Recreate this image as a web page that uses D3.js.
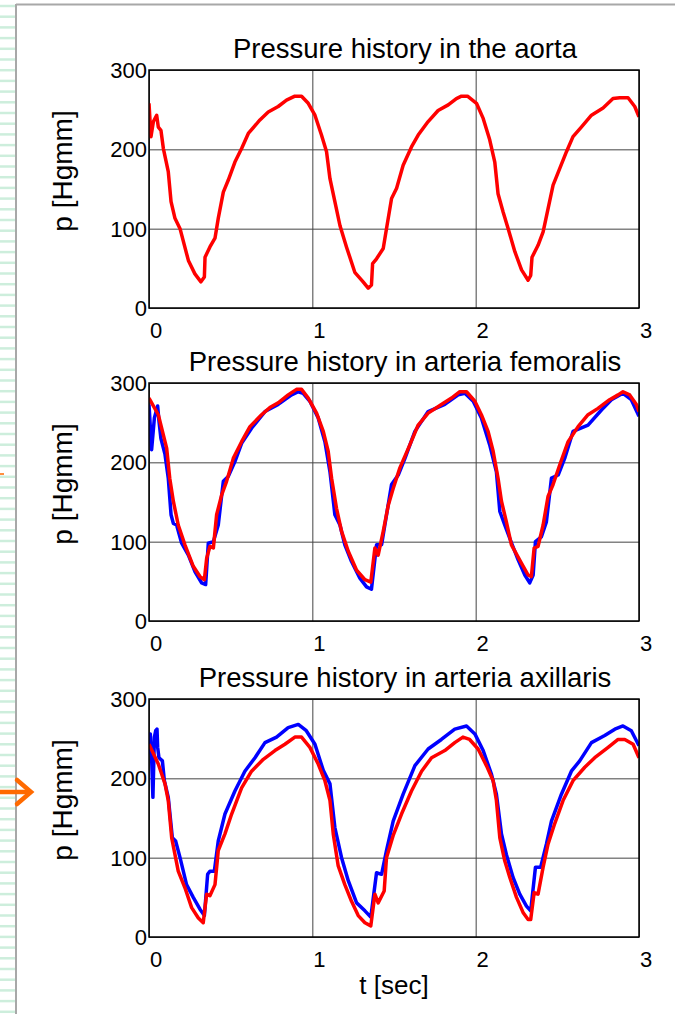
<!DOCTYPE html>
<html>
<head>
<meta charset="utf-8">
<script src="https://cdn.jsdelivr.net/npm/d3@7"></script>
<style>
  body { margin: 0; background: #fff; }
  svg { display: block; font-family: "Liberation Sans", Arial, sans-serif; }
</style>
</head>
<body>
<div id="chart"></div>
<script>
// time ticks and pressure ticks
const xTicks = [0, 1, 2, 3];
const yTicks = [0, 100, 200, 300];
const titles = ['Pressure history in the aorta', 'Pressure history in arteria femoralis', 'Pressure history in arteria axillaris'];

// [t, p]
const aortaRed = [[0,258],[0.012,216],[0.027,235],[0.047,243],[0.057,228],[0.073,224],[0.088,201],[0.118,172],[0.135,134],[0.159,113],[0.19,100],[0.241,60],[0.281,43],[0.318,33],[0.339,39],[0.343,64],[0.373,77],[0.404,88],[0.424,113],[0.455,146],[0.485,161],[0.526,184],[0.567,201],[0.608,220],[0.679,237],[0.73,247],[0.791,254],[0.842,262],[0.893,267],[0.934,267],[0.975,258],[1.016,243],[1.056,218],[1.087,197],[1.108,163],[1.138,134],[1.169,104],[1.209,77],[1.26,45],[1.311,33],[1.342,25],[1.362,29],[1.369,56],[1.393,62],[1.434,75],[1.454,100],[1.485,138],[1.516,151],[1.556,180],[1.607,203],[1.648,218],[1.709,235],[1.77,249],[1.832,256],[1.882,264],[1.913,267],[1.95,267],[2.005,258],[2.046,239],[2.086,212],[2.117,184],[2.137,144],[2.168,121],[2.199,100],[2.24,71],[2.281,48],[2.321,35],[2.337,41],[2.345,64],[2.382,79],[2.413,96],[2.443,125],[2.474,155],[2.515,176],[2.556,197],[2.596,216],[2.647,228],[2.709,243],[2.78,252],[2.841,264],[2.882,265],[2.933,265],[2.974,254],[3.0,241]];

const femoralisBlue = [[0,273],[0.016,216],[0.033,256],[0.053,271],[0.061,252],[0.073,230],[0.098,210],[0.118,180],[0.135,134],[0.149,123],[0.169,121],[0.2,98],[0.241,83],[0.282,62],[0.322,48],[0.347,46],[0.363,98],[0.394,100],[0.424,121],[0.455,176],[0.485,182],[0.526,201],[0.567,224],[0.628,243],[0.71,264],[0.791,273],[0.873,285],[0.914,289],[0.944,287],[0.985,277],[1.036,256],[1.077,226],[1.108,188],[1.138,134],[1.169,121],[1.199,96],[1.24,75],[1.291,54],[1.332,43],[1.362,40],[1.393,96],[1.424,96],[1.444,121],[1.485,172],[1.526,184],[1.567,205],[1.628,239],[1.709,264],[1.811,273],[1.893,285],[1.934,287],[1.985,277],[2.035,256],[2.086,222],[2.127,188],[2.148,138],[2.178,121],[2.209,104],[2.26,77],[2.301,58],[2.331,48],[2.352,58],[2.366,100],[2.402,106],[2.433,125],[2.464,180],[2.505,184],[2.545,205],[2.596,239],[2.688,247],[2.77,266],[2.831,279],[2.902,287],[2.953,279],[3.0,258]];

const femoralisRed = [[0,281],[0.057,260],[0.108,218],[0.127,180],[0.149,151],[0.179,121],[0.22,96],[0.271,69],[0.312,56],[0.339,52],[0.353,79],[0.373,94],[0.394,92],[0.414,134],[0.445,159],[0.475,176],[0.516,205],[0.567,226],[0.618,245],[0.689,260],[0.74,269],[0.791,275],[0.852,285],[0.903,292],[0.934,292],[0.975,281],[1.026,262],[1.067,239],[1.097,214],[1.118,180],[1.148,142],[1.179,113],[1.22,88],[1.271,64],[1.322,52],[1.358,49],[1.383,92],[1.403,83],[1.434,113],[1.465,146],[1.495,167],[1.536,193],[1.597,222],[1.648,247],[1.709,262],[1.79,273],[1.852,281],[1.903,289],[1.944,289],[1.995,277],[2.035,260],[2.076,239],[2.107,214],[2.137,180],[2.158,151],[2.188,125],[2.219,96],[2.28,73],[2.321,58],[2.341,56],[2.358,92],[2.382,94],[2.413,121],[2.443,157],[2.474,172],[2.515,197],[2.566,226],[2.627,245],[2.688,260],[2.749,268],[2.82,279],[2.872,285],[2.902,289],[2.943,285],[2.984,273],[3.0,264]];

const axillarisBlue = [[0,231],[0.008,256],[0.016,226],[0.024,176],[0.033,252],[0.041,260],[0.049,262],[0.053,239],[0.061,226],[0.082,222],[0.094,197],[0.118,176],[0.143,125],[0.163,121],[0.19,100],[0.23,66],[0.271,50],[0.312,35],[0.339,27],[0.359,79],[0.373,83],[0.4,83],[0.424,121],[0.465,155],[0.526,184],[0.587,209],[0.649,226],[0.71,245],[0.781,252],[0.852,264],[0.914,268],[0.963,260],[1.016,243],[1.067,210],[1.108,193],[1.138,138],[1.179,100],[1.22,71],[1.271,43],[1.322,33],[1.358,25],[1.393,81],[1.424,79],[1.454,109],[1.495,146],[1.556,180],[1.628,216],[1.709,237],[1.79,249],[1.872,262],[1.944,266],[1.995,256],[2.046,235],[2.097,205],[2.127,180],[2.158,130],[2.188,104],[2.229,75],[2.27,54],[2.311,39],[2.337,33],[2.366,88],[2.398,88],[2.433,117],[2.464,146],[2.525,180],[2.586,209],[2.637,222],[2.709,245],[2.79,254],[2.852,262],[2.902,266],[2.953,260],[3.0,241]];

const axillarisRed = [[0,243],[0.057,218],[0.098,193],[0.118,172],[0.139,125],[0.179,83],[0.22,62],[0.261,37],[0.302,24],[0.332,18],[0.353,54],[0.373,52],[0.404,66],[0.424,109],[0.465,130],[0.506,155],[0.567,188],[0.628,209],[0.7,224],[0.771,235],[0.832,243],[0.893,252],[0.934,252],[0.985,239],[1.036,218],[1.077,197],[1.108,172],[1.128,130],[1.158,90],[1.199,66],[1.24,45],[1.281,27],[1.322,18],[1.358,14],[1.383,54],[1.403,43],[1.44,58],[1.454,100],[1.495,128],[1.546,155],[1.607,184],[1.669,209],[1.73,226],[1.811,235],[1.872,245],[1.922,252],[1.963,249],[2.015,237],[2.066,216],[2.107,197],[2.127,172],[2.148,125],[2.178,96],[2.209,75],[2.25,50],[2.29,31],[2.321,22],[2.337,22],[2.358,56],[2.382,54],[2.413,88],[2.443,117],[2.484,143],[2.535,172],[2.596,197],[2.668,214],[2.729,226],[2.811,239],[2.872,249],[2.913,249],[2.964,243],[3.0,226]];

const width = 675, height = 1014;
const svg = d3.select('#chart').append('svg')
    .attr('width', width)
    .attr('height', height);

/* slide decorations: dashed strip, border, arrows */
const strip = svg.append('g');
d3.range(0, 95).forEach(i => {
    strip.append('line')
        .attr('x1', 0).attr('x2', 15)
        .attr('y1', 6 + i * 10.7).attr('y2', 6 + i * 10.7)
        .attr('stroke', '#cdeedc').attr('stroke-width', 2.5);
});
svg.append('line').attr('x1', 16).attr('x2', 16).attr('y1', 4).attr('y2', height)
    .attr('stroke', '#a8a8a8').attr('stroke-width', 2);
svg.append('line').attr('x1', 16).attr('x2', width).attr('y1', 4.5).attr('y2', 4.5)
    .attr('stroke', '#a8a8a8').attr('stroke-width', 2);

const orange = '#ff6a00';
svg.append('line').attr('x1', 0).attr('x2', 4).attr('y1', 474).attr('y2', 474)
    .attr('stroke', orange).attr('stroke-width', 1.5);
svg.append('line').attr('x1', 0).attr('x2', 29).attr('y1', 792).attr('y2', 792)
    .attr('stroke', orange).attr('stroke-width', 4.5);
svg.append('path').attr('d', 'M17,780 L31,792 L17,804')
    .attr('fill', 'none').attr('stroke', orange).attr('stroke-width', 4.5)
    .attr('stroke-linecap', 'round');

/* the three panels */
const panels = [
    { top: 70, series: [aortaRed], colors: ['#ff0000'] },
    { top: 383, series: [femoralisBlue, femoralisRed], colors: ['#0000ff', '#ff0000'] },
    { top: 699, series: [axillarisBlue, axillarisRed], colors: ['#0000ff', '#ff0000'] }
];
const left = 149, plotW = 490, plotH = 238;

const xScale = d3.scaleLinear().domain([0, 3]).range([left, left + plotW]);

panels.forEach((p, k) => {
    const yScale = d3.scaleLinear().domain([0, 300]).range([p.top + plotH, p.top]);
    const g = svg.append('g');

    // grid
    g.append('g')
        .attr('transform', `translate(0,${p.top + plotH})`)
        .call(d3.axisBottom(xScale).tickValues(xTicks).tickSize(-plotH).tickFormat(''))
        .call(a => a.select('.domain').remove())
        .selectAll('line').attr('stroke', '#444').attr('stroke-width', 1);
    g.append('g')
        .attr('transform', `translate(${left},0)`)
        .call(d3.axisLeft(yScale).tickValues(yTicks).tickSize(-plotW).tickFormat(''))
        .call(a => a.select('.domain').remove())
        .selectAll('line').attr('stroke', '#444').attr('stroke-width', 1);

    const clipId = 'clip' + k;
    g.append('clipPath').attr('id', clipId).append('rect')
        .attr('x', left).attr('y', p.top).attr('width', plotW).attr('height', plotH);

    const line = d3.line()
        .x(d => xScale(d[0]))
        .y(d => yScale(d[1]));

    p.series.forEach((s, i) => {
        g.append('path')
            .datum(s)
            .attr('clip-path', `url(#${clipId})`)
            .attr('fill', 'none')
            .attr('stroke', p.colors[i])
            .attr('stroke-width', 3.5)
            .attr('stroke-linejoin', 'round')
            .attr('d', line);
    });

    // box
    g.append('rect')
        .attr('x', left).attr('y', p.top).attr('width', plotW).attr('height', plotH)
        .attr('fill', 'none').attr('stroke', '#000').attr('stroke-width', 1.5);

    // tick labels
    g.selectAll('.xt').data(xTicks).enter().append('text')
        .attr('x', d => xScale(d) + 7)
        .attr('y', p.top + plotH + 30)
        .attr('text-anchor', 'middle')
        .attr('font-size', 22)
        .text(d => d);
    g.selectAll('.yt').data(yTicks).enter().append('text')
        .attr('x', left - 2)
        .attr('y', d => yScale(d) + 8)
        .attr('text-anchor', 'end')
        .attr('font-size', 22)
        .text(d => d);

    // title
    g.append('text')
        .attr('x', 405)
        .attr('y', p.top - 12)
        .attr('text-anchor', 'middle')
        .attr('font-size', 27.5)
        .text(titles[k]);

    // y label
    g.append('text')
        .attr('transform', `translate(72,${p.top + plotH / 2 - 18}) rotate(-90)`)
        .attr('text-anchor', 'middle')
        .attr('font-size', 28)
        .text('p [Hgmm]');
});

svg.append('text')
    .attr('x', xScale(1.5))
    .attr('y', 994)
    .attr('text-anchor', 'middle')
    .attr('font-size', 26)
    .text('t [sec]');
</script>
</body>
</html>
